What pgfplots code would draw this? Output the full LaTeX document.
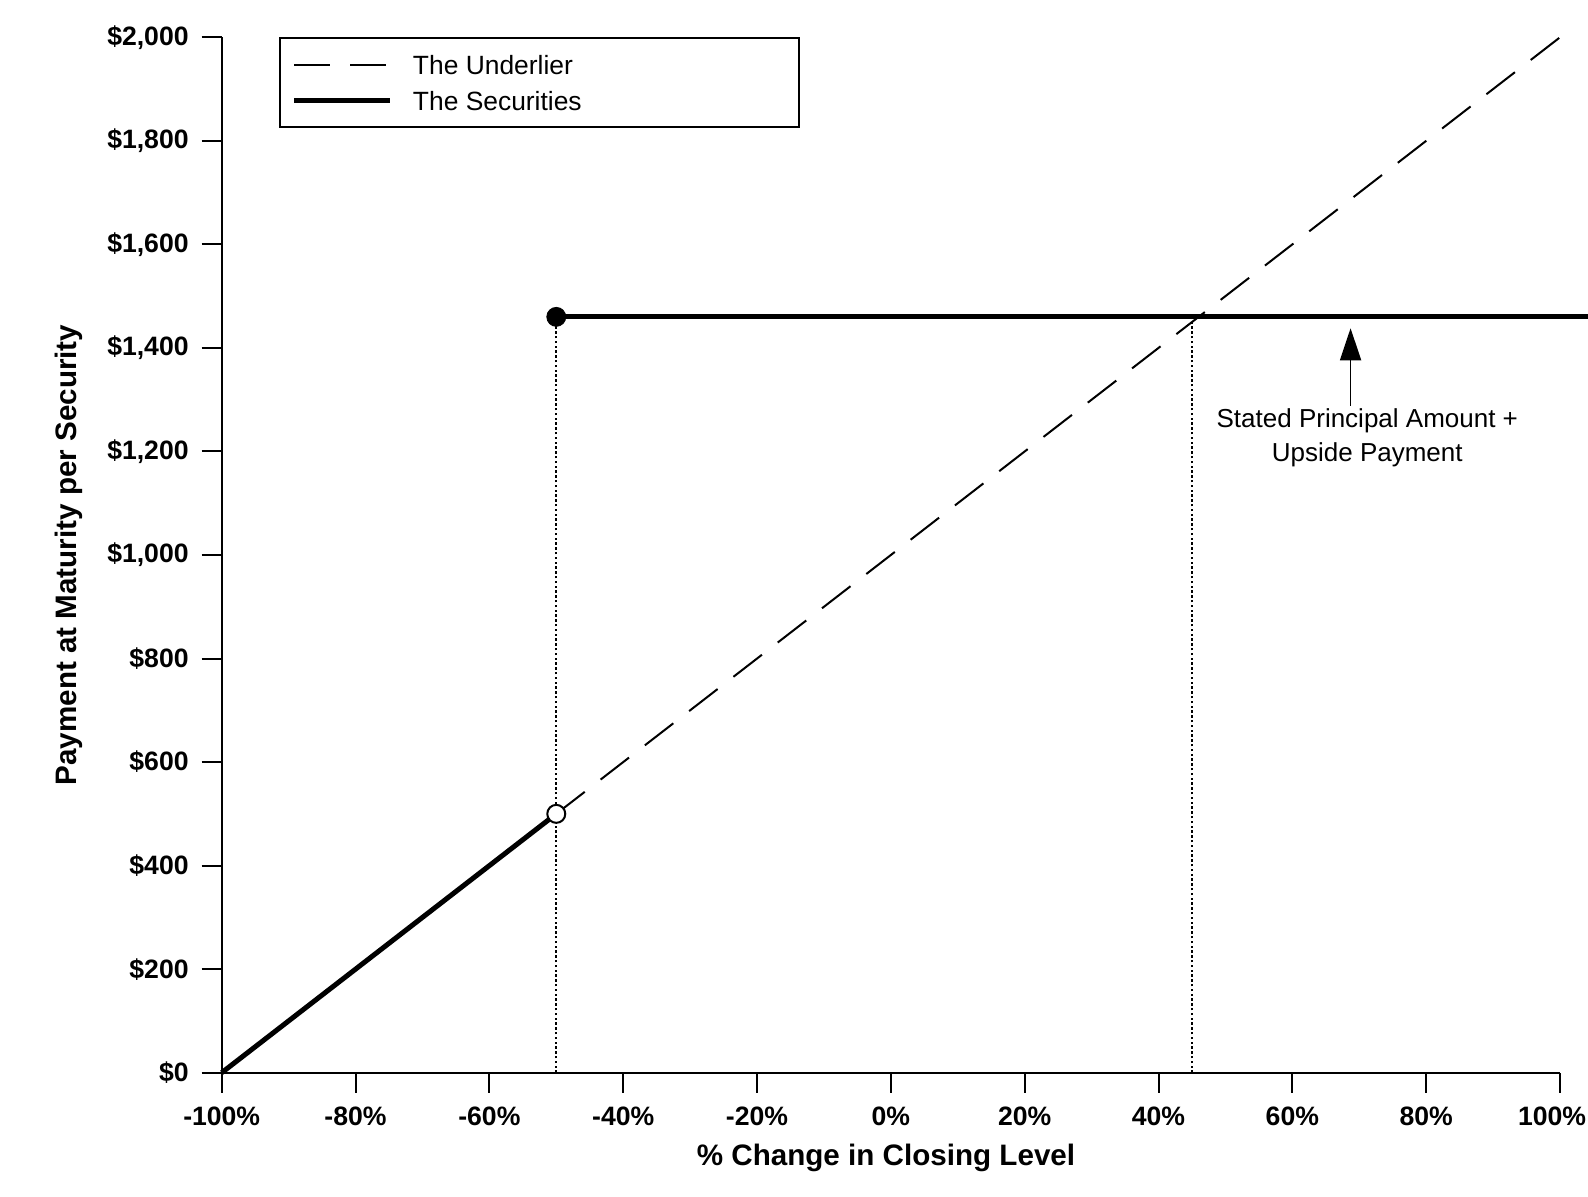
\documentclass[border=0pt]{standalone}
\usepackage{fontspec}
\setmainfont{Liberation Sans}
\usepackage{pgfplots}
\pgfplotsset{compat=1.18}
\usetikzlibrary{arrows.meta}
\begin{document}
\begin{tikzpicture}
\path[use as bounding box] (-110.85pt,-61.65pt) rectangle (683.15pt,536.35pt);
\begin{axis}[
  at={(0,0)}, anchor=south west,
  scale only axis, width=669.15pt, height=517.7pt,
  xmin=-100, xmax=100, ymin=0, ymax=2000,
  axis x line*=bottom, axis y line*=left,
  axis line style={-, line width=1pt},
  tick align=outside, major tick length=10pt,
  tick style={black, line width=1pt},
  xtick={-100,-80,-60,-40,-20,0,20,40,60,80,100},
  xticklabels={-100\%,-80\%,-60\%,-40\%,-20\%,0\%,20\%,40\%,60\%,80\%,{100\%\hspace*{8pt}}},
  ytick={0,200,400,600,800,1000,1200,1400,1600,1800,2000},
  yticklabels={\$0,\$200,\$400,\$600,\$800,{\$1,000},{\$1,200},{\$1,400},{\$1,600},{\$1,800},{\$2,000}},
  ticklabel style={font=\fontsize{13.3}{16}\selectfont\bfseries},
  xticklabel style={yshift=-3.5pt},
  yticklabel style={xshift=-3pt},
  xlabel={\% Change in Closing Level},
  ylabel={Payment at Maturity per Security},
  label style={font=\fontsize{14.8}{18}\selectfont\bfseries},
  xlabel style={at={(axis description cs:0.4964,-0.0821)}, anchor=center},
  ylabel style={at={(axis description cs:-0.1141,0.5)}, anchor=center},
  clip=false,
  legend style={at={(0.0428,1.0)}, anchor=north west, draw=black, line width=1pt,
    fill=white, font=\fontsize{13.2}{16}\selectfont,
    inner xsep=6pt, inner ysep=4.25pt, column sep=6pt, row sep=0pt,
    nodes={inner xsep=4pt, inner ysep=2.5pt, text height=10pt, text depth=3pt}},
  legend cell align=left,
  legend image code/.code={\draw[#1] (0pt,0pt) -- (48pt,0pt);},
]
% The Underlier
\addplot[black, line width=1pt, dash pattern=on 18pt off 10pt] coordinates {(-50,500) (100,2000)};
\addlegendentry{\raisebox{-1.5pt}{\makebox[183pt][l]{The Underlier}}}
% The Securities
\addplot[black, line width=2.5pt] coordinates {(-100,0) (-50,500)};
\addlegendentry{\raisebox{-1.5pt}{\makebox[183pt][l]{The Securities}}}
\addplot[black, line width=2.5pt, forget plot] coordinates {(-50,1460) (104.2,1460)};
% dotted verticals
\addplot[black, line width=0.8pt, dash pattern=on 1.2pt off 1.2pt, forget plot] coordinates {(-50,0) (-50,1460)};
\addplot[black, line width=0.8pt, dash pattern=on 1.2pt off 1.2pt, forget plot] coordinates {(45,0) (45,1460)};
% dots
\addplot[only marks, mark=*, mark size=4.75pt, black, forget plot] coordinates {(-50,1460)};
\addplot[only marks, mark=*, mark size=4.5pt, forget plot, mark options={fill=white, draw=black, line width=1pt}] coordinates {(-50,500)};
% annotation
\draw[black, line width=0.8pt, -{Triangle[length=16pt,width=10.5pt]}] (axis cs:68.7,1288) -- (axis cs:68.7,1438);
\node[align=center, font=\fontsize{13}{17}\selectfont, inner sep=0pt] at (axis cs:71.2,1226) {Stated Principal Amount +\\Upside Payment};
\end{axis}
\end{tikzpicture}
\end{document}
